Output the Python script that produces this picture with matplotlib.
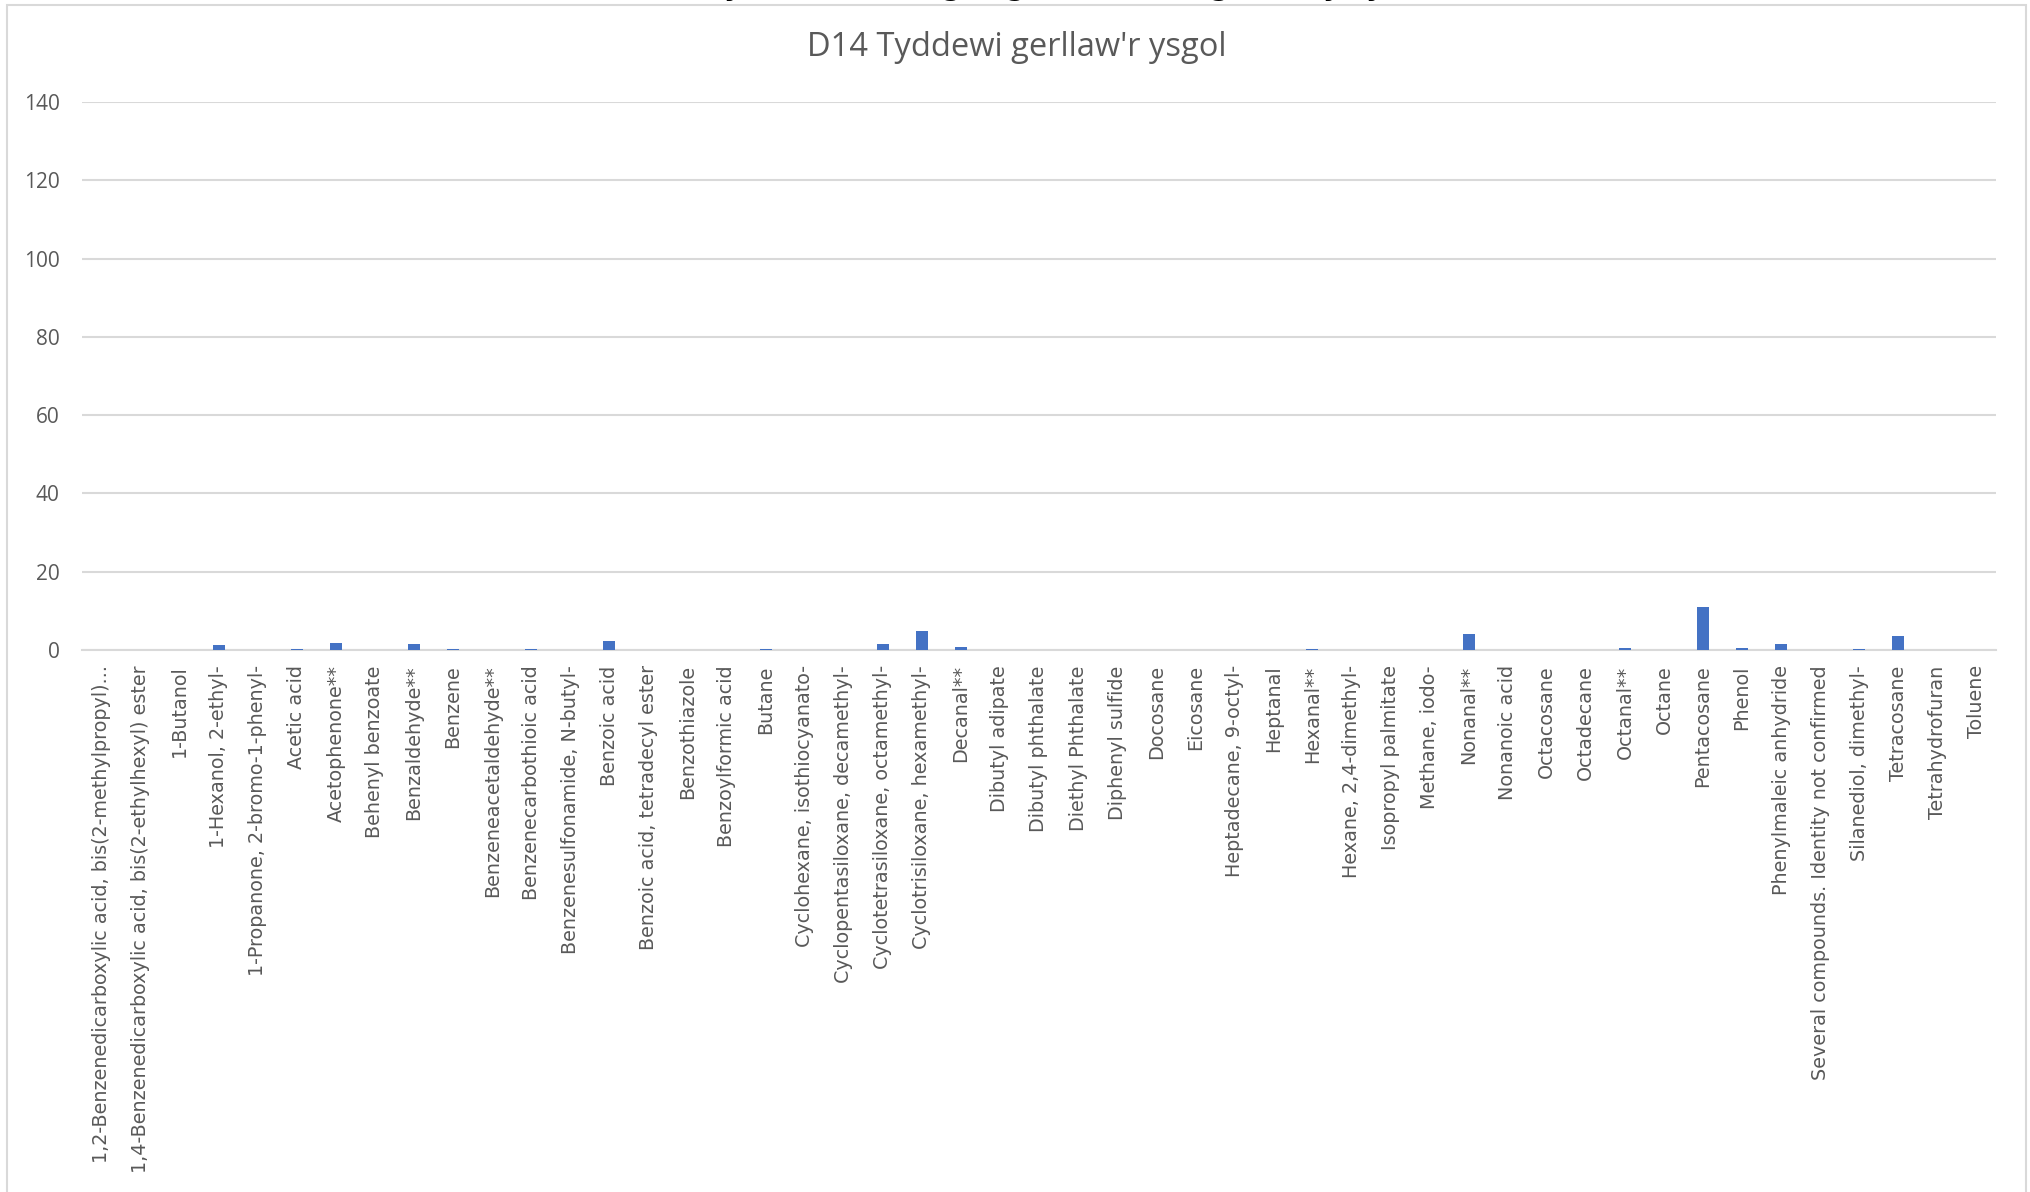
import matplotlib.pyplot as plt
from matplotlib.patches import Rectangle

## compound names along the x axis
compounds = [
    "1,2-Benzenedicarboxylic acid, bis(2-methylpropyl)...",
    "1,4-Benzenedicarboxylic acid, bis(2-ethylhexyl) ester",
    "1-Butanol", "1-Hexanol, 2-ethyl-", "1-Propanone, 2-bromo-1-phenyl-",
    "Acetic acid", "Acetophenone**", "Behenyl benzoate", "Benzaldehyde**",
    "Benzene", "Benzeneacetaldehyde**", "Benzenecarbothioic acid",
    "Benzenesulfonamide, N-butyl-", "Benzoic acid", "Benzoic acid, tetradecyl ester",
    "Benzothiazole", "Benzoylformic acid", "Butane", "Cyclohexane, isothiocyanato-",
    "Cyclopentasiloxane, decamethyl-", "Cyclotetrasiloxane, octamethyl-",
    "Cyclotrisiloxane, hexamethyl-", "Decanal**", "Dibutyl adipate",
    "Dibutyl phthalate", "Diethyl Phthalate", "Diphenyl sulfide", "Docosane",
    "Eicosane", "Heptadecane, 9-octyl-", "Heptanal", "Hexanal**",
    "Hexane, 2,4-dimethyl-", "Isopropyl palmitate", "Methane, iodo-", "Nonanal**",
    "Nonanoic acid", "Octacosane", "Octadecane", "Octanal**", "Octane",
    "Pentacosane", "Phenol", "Phenylmaleic anhydride",
    "Several compounds. Identity not confirmed", "Silanediol, dimethyl-",
    "Tetracosane", "Tetrahydrofuran", "Toluene",
]

## concentrations
values = [
    0, 0, 0, 1.4, 0, 0.3, 1.7, 0, 1.6, 0.3,
    0, 0.3, 0, 2.3, 0, 0, 0, 0.3, 0, 0,
    1.6, 4.9, 0.7, 0, 0, 0, 0, 0, 0, 0,
    0, 0.3, 0, 0, 0, 4.0, 0, 0, 0, 0.5,
    0, 11.1, 0.5, 1.55, 0, 0.3, 3.6, 0, 0,
]

y_ticks = [0, 20, 40, 60, 80, 100, 120, 140]
title = "D14 Tyddewi gerllaw'r ysgol"

W, H = 2031, 1192
fig = plt.figure(figsize=(W / 100, H / 100), dpi=100)

## chart frame (light grey border like the spreadsheet chart)
fig.patches.append(Rectangle((7 / W, -0.01), (2026 - 7) / W, 1 - 5 / H + 0.01,
                             transform=fig.transFigure, fill=False,
                             edgecolor="#D9D9D9", lw=1.5))

## bits of the cut-off heading above the frame
for ch, xp in [("y", 733), ("g", 952), ("g", 1016), ("g", 1220), ("y", 1332), ("y", 1375)]:
    fig.text(xp / W, 1 + 5 / H, ch, ha="center", va="baseline",
             fontsize=20, fontweight="bold", color="black")

ax = fig.add_axes([82 / W, 1 - 650 / H, (1996 - 82) / W, (650 - 102) / H])
x = range(len(compounds))
ax.bar(x, values, width=0.31, color="#4472C4", zorder=3)

ax.set_xlim(-0.5, len(compounds) - 0.5)
ax.set_ylim(0, 140)
ax.set_yticks(y_ticks)
ax.yaxis.grid(True, color="#D9D9D9", lw=1.5, zorder=0)
ax.set_xticks(list(x))
ax.set_xticklabels(compounds, rotation=90, fontsize=13.8, color="#595959",
                   family="DejaVu Sans", va="top")
for lab in ax.get_yticklabels():
    lab.set_family("Open Sans")
ax.tick_params(axis="y", length=0, pad=16, labelsize=15, labelcolor="#595959")
ax.tick_params(axis="x", length=0, pad=11)
for s in ["top", "right", "left"]:
    ax.spines[s].set_visible(False)
ax.spines["bottom"].set_color("#D9D9D9")
ax.spines["bottom"].set_linewidth(1.5)

fig.text(0.5005, 1 - 48 / H, title, ha="center", va="center",
         fontsize=23.5, color="#595959", family="Open Sans")

fig.savefig("out.png", dpi=100)
